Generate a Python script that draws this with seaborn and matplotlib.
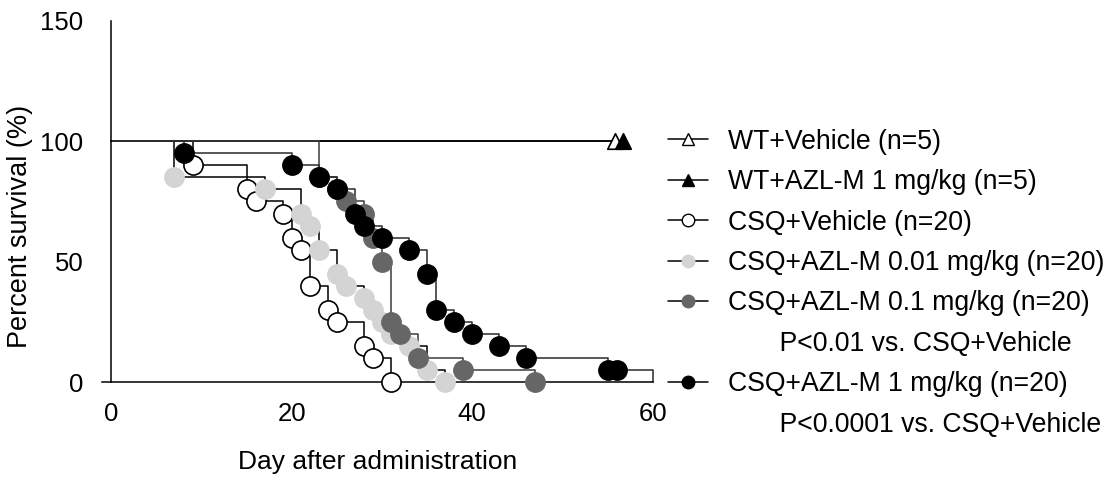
import matplotlib
matplotlib.use("Agg")
import matplotlib.pyplot as plt
from matplotlib.lines import Line2D
import seaborn as sns
import pandas as pd

sns.set_theme(style="white")
plt.rcParams['font.family'] = ['Liberation Sans', 'DejaVu Sans']
plt.rcParams['text.color'] = 'black'
plt.rcParams['axes.labelcolor'] = 'black'

# Kaplan-Meier events: day of each event and percent surviving after it
wt_veh_days = [55.8]
wt_veh_surv = [100]
wt_azl_days = [56.7]
wt_azl_surv = [100]
csq_veh_days = [9, 15, 16, 19, 20, 21, 22, 24, 25, 28, 29, 31]
csq_veh_surv = [90, 80, 75, 70, 60, 55, 40, 30, 25, 15, 10, 0]
csq_001_days = [7, 17, 21, 22, 23, 25, 26, 28, 29, 30, 31, 33, 35, 37]
csq_001_surv = [85, 80, 70, 65, 55, 45, 40, 35, 30, 25, 20, 15, 5, 0]
csq_01_days = [23, 25, 26, 28, 29, 30, 31, 32, 34, 39, 47]
csq_01_surv = [85, 80, 75, 70, 60, 50, 25, 20, 10, 5, 0]
csq_1_days = [8, 20, 23, 25, 27, 28, 30, 33, 35, 36, 38, 40, 43, 46, 55, 56]
csq_1_surv = [95, 90, 85, 80, 70, 65, 60, 55, 45, 30, 25, 20, 15, 10, 5, 5]
# end of observation for the 1 mg/kg group
csq_1_end_day = [60]
csq_1_end_surv = [0]

group_labels = [
    "WT+Vehicle (n=5)",
    "WT+AZL-M 1 mg/kg (n=5)",
    "CSQ+Vehicle (n=20)",
    "CSQ+AZL-M 0.01 mg/kg (n=20)",
    "CSQ+AZL-M 0.1 mg/kg (n=20)",
    "CSQ+AZL-M 1 mg/kg (n=20)",
]
p_notes = ["P<0.01 vs. CSQ+Vehicle", "P<0.0001 vs. CSQ+Vehicle"]

x_ticks = [0, 20, 40, 60]
y_ticks = [0, 50, 100, 150]

series = [
    # days, surv, extra line tail (days, surv), marker, face, edge, line colour
    (wt_veh_days, wt_veh_surv, ([], []), "^", "white", "black", "black"),
    (wt_azl_days, wt_azl_surv, ([], []), "^", "black", "black", "black"),
    (csq_veh_days, csq_veh_surv, ([], []), "o", "white", "black", "black"),
    (csq_001_days, csq_001_surv, ([], []), "o", "#d4d4d4", "#d4d4d4", "black"),
    (csq_01_days, csq_01_surv, ([], []), "o", "#666666", "#666666", "#3c3c3c"),
    (csq_1_days, csq_1_surv, (csq_1_end_day, csq_1_end_surv), "o", "black", "black", "#2a2a2a"),
]

fig = plt.figure(figsize=(11.18, 4.86), dpi=100)
ax = fig.add_axes([0.0915, 0.2134, 0.4923, 0.7440])

for i, (days, surv, tail, mk, fc, ec, lc) in enumerate(series):
    step = pd.DataFrame({"day": [0] + days + tail[0],
                         "surv": [100] + surv + tail[1]})
    sns.lineplot(data=step, x="day", y="surv", ax=ax, estimator=None, sort=False,
                 drawstyle="steps-post", color=lc, lw=1.1, zorder=2 + i * 0.1,
                 clip_on=False)
    pts = pd.DataFrame({"day": days, "surv": surv})
    ms = 125 if mk == "^" else 190
    sns.scatterplot(data=pts, x="day", y="surv", ax=ax, marker=mk, s=ms,
                    facecolor=fc, edgecolor=ec, linewidth=1.2,
                    zorder=3 + i * 0.1, clip_on=False)

ax.set_xlim(-1, 60)
ax.set_ylim(0, 150)
ax.set_xticks(x_ticks)
ax.set_yticks(y_ticks)
ax.spines["left"].set_position(("data", 0))
ax.spines["top"].set_visible(False)
ax.spines["right"].set_visible(False)
for sp in ("left", "bottom"):
    ax.spines[sp].set_color("black")
    ax.spines[sp].set_linewidth(1.1)
ax.tick_params(axis="both", direction="out", length=7.2, width=1.1,
               colors="black", labelsize=18.5)
ax.tick_params(axis="y", pad=13)
ax.tick_params(axis="x", pad=7)
ax.grid(False)

ax.set_xlabel("Day after administration", fontsize=19, labelpad=17, color="black")
ax.set_ylabel("Percent survival (%)", fontsize=19.5, color="black")
ax.yaxis.set_label_coords(-0.125, 0.43)

handles = []
labels = []
styles = [("^", "white", "black"), ("^", "black", "black"), ("o", "white", "black"),
          ("o", "#d4d4d4", "#d4d4d4"), ("o", "#666666", "#666666"), ("o", "black", "black")]
for lab, (mk, fc, ec) in zip(group_labels, styles):
    handles.append(Line2D([], [], color="black", lw=1.1, marker=mk,
                          markerfacecolor=fc, markeredgecolor=ec, markersize=9))
    labels.append(lab)
    if lab.startswith("CSQ+AZL-M 0.1"):
        handles.append(Line2D([], [], linestyle="none"))
        labels.append("       " + p_notes[0])
    if lab.startswith("CSQ+AZL-M 1 "):
        handles.append(Line2D([], [], linestyle="none"))
        labels.append("       " + p_notes[1])

fig.legend(handles, labels, loc="upper left", bbox_to_anchor=(0.5975, 0.735),
           frameon=False, fontsize=19.2, handlelength=1.5, handletextpad=0.75,
           labelspacing=0.54, borderpad=0, borderaxespad=0, labelcolor="black")

fig.savefig("out.png", dpi=100)
